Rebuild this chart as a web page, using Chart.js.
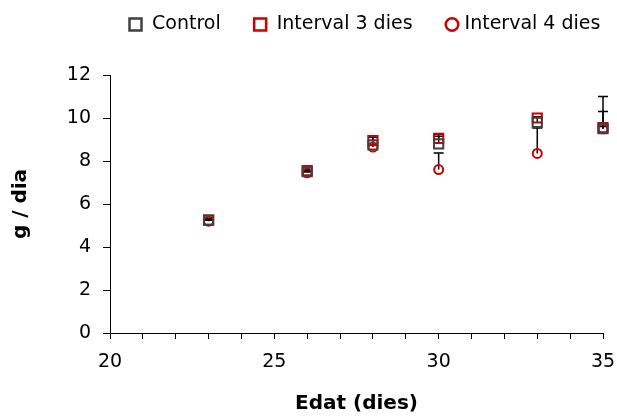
<!DOCTYPE html>
<html>
<head>
<meta charset="utf-8">
<script src="https://cdn.jsdelivr.net/npm/chart.js@4/dist/chart.umd.min.js"></script>
<style>
  html,body{margin:0;padding:0;background:#fff;}
  #wrap{width:617px;height:416px;}
</style>
</head>
<body>
<div id="wrap"><canvas id="c" width="617" height="416"></canvas></div>
<script>
// ages (days) and daily gain
const ages = [23, 26, 28, 30, 33, 35];
const control = [5.25, 7.5, 8.75, 8.8, 9.8, 9.5];
const controlErr = [0.08, 0.04, 0.35, 0.45, 0.25, 0.8];
const interval3 = [5.25, 7.55, 8.95, 9.05, 10.0, 9.55];
const interval3Err = [0.04, 0.04, 0.15, 0.1, 0.05, 1.45];
const interval4 = [5.2, 7.45, 8.65, 7.6, 8.35, 9.5];
const interval4Err = [0.04, 0.04, 0.1, 0.77, 1.18, 0.1];
const seriesNames = ['Control', 'Interval 3 dies', 'Interval 4 dies'];

const GRAY = '#404040', RED = '#cc0000';
const FONT = 'DejaVu Sans';

const pts = (ys) => ages.map((x, i) => ({x, y: ys[i]}));

// plus-only error bars, drawn under the markers
const errorBars = {
  id: 'errorBars',
  beforeDatasetsDraw(chart) {
    const ctx = chart.ctx, ys = chart.scales.y;
    ctx.save();
    ctx.strokeStyle = '#000';
    ctx.lineWidth = 1.5;
    chart.data.datasets.forEach((ds, di) => {
      const meta = chart.getDatasetMeta(di);
      meta.data.forEach((p, i) => {
        const top = ys.getPixelForValue(ds.data[i].y + ds.err[i]);
        ctx.beginPath();
        ctx.moveTo(p.x, p.y);
        ctx.lineTo(p.x, top);
        ctx.moveTo(p.x - 5, top);
        ctx.lineTo(p.x + 5, top);
        ctx.stroke();
      });
    });
    ctx.restore();
  }
};

// legend row drawn by hand so spacing follows the original
const legendRow = {
  id: 'legendRow',
  afterDraw(chart) {
    const ctx = chart.ctx;
    const styles = [['rect', GRAY], ['rect', RED], ['circle', RED]];
    let x = 128, y = 24;
    ctx.save();
    ctx.font = '19px "' + FONT + '"';
    ctx.textBaseline = 'middle';
    seriesNames.forEach((name, i) => {
      const [shape, col] = styles[i];
      ctx.strokeStyle = col;
      ctx.lineWidth = 2.5;
      ctx.beginPath();
      if (shape === 'rect') ctx.rect(x + 1.5, y - 5.5, 12, 12);
      else ctx.arc(x + 7.5, y + 0.5, 6.3, 0, Math.PI * 2);
      ctx.stroke();
      ctx.fillStyle = '#000';
      const tx = x + (shape === 'rect' ? 24 : 20);
      ctx.fillText(name, tx, y);
      x = tx + ctx.measureText(name).width + 32;
    });
    ctx.restore();
  }
};

new Chart(document.getElementById('c'), {
  type: 'scatter',
  data: {
    datasets: [
      {label: seriesNames[0], data: pts(control), err: controlErr, pointStyle: 'rect', pointRadius: 6.5,
       borderColor: GRAY, backgroundColor: 'transparent', borderWidth: 2, clip: false},
      {label: seriesNames[1], data: pts(interval3), err: interval3Err, pointStyle: 'rect', pointRadius: 6.5,
       borderColor: RED, backgroundColor: 'transparent', borderWidth: 2, clip: false},
      {label: seriesNames[2], data: pts(interval4), err: interval4Err, pointStyle: 'circle', pointRadius: 4.5,
       borderColor: RED, backgroundColor: 'transparent', borderWidth: 2, clip: false}
    ]
  },
  options: {
    responsive: false,
    animation: false,
    layout: {padding: {top: 75, right: 14, left: 0, bottom: 0}},
    plugins: {legend: {display: false}, tooltip: {enabled: false}},
    scales: {
      x: {
        type: 'linear', min: 20, max: 35,
        ticks: {stepSize: 1, autoSkip: false, maxRotation: 0, padding: 12, color: '#000',
                font: {family: FONT, size: 19},
                callback: (v) => (v % 5 === 0 ? v : '')},
        grid: {drawOnChartArea: false, drawTicks: true, tickLength: 6, color: '#000', tickWidth: 1},
        border: {color: '#000', width: 1},
        title: {display: true, text: 'Edat (dies)', color: '#000', padding: {top: 0, bottom: 0},
                font: {family: FONT, size: 20, weight: 'bold'}},
        afterFit: (s) => { s.height = 83; s.paddingLeft = 0; s.paddingRight = 0; }
      },
      y: {
        min: 0, max: 12,
        ticks: {stepSize: 2, padding: 12, color: '#000', font: {family: FONT, size: 19}},
        grid: {drawOnChartArea: false, drawTicks: true, tickLength: 7, color: '#000', tickWidth: 1},
        border: {color: '#000', width: 1},
        title: {display: true, text: 'g / dia', color: '#000', padding: {top: 9, bottom: 0},
                font: {family: FONT, size: 20, weight: 'bold'}},
        afterFit: (s) => { s.width = 110; }
      }
    }
  },
  plugins: [errorBars, legendRow]
});
</script>
</body>
</html>
